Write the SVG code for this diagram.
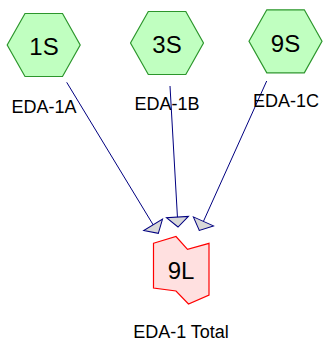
<svg xmlns="http://www.w3.org/2000/svg" width="326" height="350" viewBox="0 0 326 350">
<style>
.hex{fill:#c0ffc0;stroke:#2c962c;stroke-width:1.2}
.big{font-family:"Liberation Sans",Arial,sans-serif;font-size:24px;fill:#000;text-anchor:middle}
.lbl{font-family:"Liberation Sans",Arial,sans-serif;font-size:18px;fill:#000;text-anchor:middle}
.edge{stroke:#000080;stroke-width:1;fill:none}
.tgt{fill:#ffe0e0;stroke:#ff0000;stroke-width:1.2}
</style>
<defs>
<marker id="arr" markerUnits="userSpaceOnUse" markerWidth="14" markerHeight="26" refX="11" refY="12" orient="auto" overflow="visible">
<path d="M1,1 L11,12 L1,23 Z" fill="#d8d8d8" stroke="#000080" stroke-width="1"/>
</marker>
</defs>
<g id="connectors">
<line class="edge" x1="66.7" y1="82.3" x2="158.3" y2="233.3" marker-end="url(#arr)"/>
<line class="edge" x1="170" y1="86" x2="178" y2="227" marker-end="url(#arr)"/>
<line class="edge" x1="266.7" y1="81" x2="199.3" y2="230.5" marker-end="url(#arr)"/>
</g>
<g id="n1S">
<polygon class="hex" points="7.2,45 25,13.5 62.5,13.5 80.2,45 62.5,76.5 25,76.5"/>
<text class="big" x="44" y="54.5">1S</text>
<text class="lbl" x="44" y="113">EDA-1A</text>
</g>
<g id="n3S">
<polygon class="hex" points="130.5,43 148.3,11.5 185.8,11.5 203.5,43 185.8,74.5 148.3,74.5"/>
<text class="big" x="167" y="53">3S</text>
<text class="lbl" x="167" y="110">EDA-1B</text>
</g>
<g id="n9S">
<polygon class="hex" points="249,41.3 266.8,9.8 304.3,9.8 322,41.3 304.3,72.8 266.8,72.8"/>
<text class="big" x="285.5" y="51.5">9S</text>
<text class="lbl" x="286" y="107">EDA-1C</text>
</g>
<g id="n9L">
<polygon class="tgt" points="153.5,243.3 176,236.5 187.5,249.3 209,243.3 209,295 188.5,304 176,291 153.5,288"/>
<text class="big" x="181" y="278.5">9L</text>
<text class="lbl" x="181" y="338">EDA-1 Total</text>
</g>
</svg>
